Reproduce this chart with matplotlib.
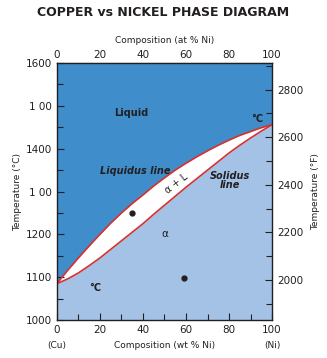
import numpy as np
import matplotlib.pyplot as plt
from matplotlib.ticker import MultipleLocator

plt.rcParams['font.family'] = 'DejaVu Sans'

# wt % Ni vs temperature (deg C)
comp = [0, 5, 10, 15, 20, 25, 30, 35, 40, 45, 50,
        55, 60, 65, 70, 75, 80, 85, 90, 95, 100]
liquidus = [1085, 1116, 1145, 1173, 1200, 1226, 1250, 1272, 1292, 1313, 1332,
            1350, 1366, 1381, 1395, 1408, 1420, 1431, 1440, 1449, 1456]
solidus = [1085, 1096, 1110, 1127, 1145, 1165, 1185, 1205, 1225, 1247, 1268,
           1289, 1310, 1330, 1350, 1370, 1390, 1408, 1425, 1441, 1456]

# sample points (wt % Ni, deg C)
pts_x = [35, 59]
pts_y = [1250, 1098]

c_ticks = [1000, 1100, 1200, 1300, 1400, 1500, 1600]
c_labels = ['1000', '1100', '1200', '1 00', '1400', '1 00', '1600']
f_ticks = [2000, 2200, 2400, 2600, 2800]

dark = '#231f20'
liq_col = '#3f8dcb'
sol_col = '#a3c2e5'
red = '#d8302f'

fig = plt.figure(figsize=(3.27, 3.58), dpi=100)
ax = fig.add_axes([0.174, 0.106, 0.658, 0.718])

x = np.array(comp)
ax.fill_between(x, liquidus, 1600, color=liq_col, lw=0)
ax.fill_between(x, solidus, liquidus, color='white', lw=0)
ax.fill_between(x, 1000, solidus, color=sol_col, lw=0)
ax.plot(x, liquidus, color=red, lw=1.2)
ax.plot(x, solidus, color=red, lw=1.2)
ax.plot(pts_x, pts_y, 'o', color=dark, ms=3.5)

ax.set_xlim(0, 100)
ax.set_ylim(1000, 1600)
ax.set_yticks(c_ticks)
ax.set_yticklabels(c_labels)
ax.yaxis.set_minor_locator(MultipleLocator(50))
ax.set_xticks([0, 20, 40, 60, 80, 100])
ax.xaxis.set_minor_locator(MultipleLocator(10))
ax.tick_params(which='both', direction='in', colors=dark, labelsize=7.5,
               length=5, width=0.8)
ax.tick_params(which='minor', length=4)
for s in ax.spines.values():
    s.set_color(dark)
    s.set_linewidth(1)
ax.set_ylabel('Temperature (°C)', fontsize=6.5, color=dark, labelpad=3)

# top axis (atomic %)
top = ax.secondary_xaxis('top')
top.set_xticks([0, 20, 40, 60, 80, 100])
top.tick_params(length=0, labelsize=7.5, colors=dark, pad=2)
top.set_xlabel('Composition (at % Ni)', fontsize=6.5, color=dark, labelpad=5)

# right axis (deg F)
ax2 = ax.twinx()
ax2.set_ylim(1000 * 9 / 5 + 32, 1600 * 9 / 5 + 32)
ax2.set_yticks(f_ticks)
ax2.yaxis.set_minor_locator(MultipleLocator(100))
ax2.tick_params(which='both', direction='in', colors=dark, labelsize=7.5,
                length=5, width=0.8)
ax2.tick_params(which='minor', length=4)
ax2.set_ylabel('Temperature (°F)', fontsize=6.5, color=dark, labelpad=6)
for s in ax2.spines.values():
    s.set_visible(False)

# bottom labels
ax.text(0, -0.1, '(Cu)', transform=ax.transAxes, ha='center', va='center',
        fontsize=6.5, color=dark)
ax.text(1, -0.1, '(Ni)', transform=ax.transAxes, ha='center', va='center',
        fontsize=6.5, color=dark)
ax.text(0.5, -0.1, 'Composition (wt % Ni)', transform=ax.transAxes,
        ha='center', va='center', fontsize=6.5, color=dark)

# region labels
ax.text(34.7, 1483, 'Liquid', fontsize=7, weight='bold', color=dark,
        ha='center', va='center')
ax.text(36.3, 1348, 'Liquidus line', fontsize=7, weight='bold',
        style='italic', color=dark, ha='center', va='center')
ax.text(80.5, 1325, 'Solidus\nline', fontsize=7, weight='bold',
        style='italic', color=dark, ha='center', va='center', linespacing=0.9)
ax.text(55.7, 1318, 'α + L', fontsize=7, color=dark, rotation=38,
        ha='center', va='center')
ax.text(50.2, 1200, 'α', fontsize=7.5, color=dark, ha='center', va='center')
ax.text(93, 1469, '°C', fontsize=7, weight='bold', color=dark,
        ha='center', va='center')
ax.text(17.7, 1075, '°C', fontsize=7, weight='bold', color=dark,
        ha='center', va='center')

fig.text(0.5, 0.965, 'COPPER vs NICKEL PHASE DIAGRAM', ha='center',
         va='center', fontsize=9, weight='bold', color=dark)

fig.savefig('out.png', dpi=100)
